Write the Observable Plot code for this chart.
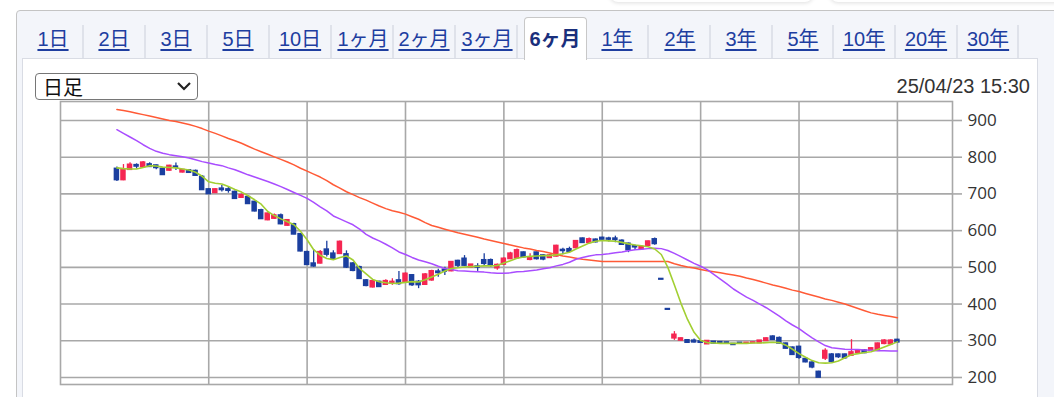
<!DOCTYPE html>
<html><head><meta charset="utf-8">
<script src="https://cdn.jsdelivr.net/npm/d3@7"></script>
<script src="https://cdn.jsdelivr.net/npm/@observablehq/plot@0.6"></script>
<style>
html,body{margin:0;padding:0;background:#fff;width:1054px;height:397px;overflow:hidden;position:relative;font-family:"Liberation Sans",Arial,"Noto Sans CJK JP",sans-serif;}
.shadow{position:absolute;top:-24px;height:26px;border-radius:8px;background:#fff;box-shadow:0 1px 4px rgba(0,0,0,0.13);}
#outer{position:absolute;left:16px;top:10px;width:1100px;height:430px;border:1px solid #c4c4c4;border-radius:4px;background:#f3f5fa;box-sizing:border-box;}
#panel{position:absolute;left:22px;top:58px;width:1016px;height:400px;background:#fff;border:1px solid #d9dce4;box-sizing:border-box;}
.sep{position:absolute;top:25px;height:33px;width:2px;background:#dfe2ea;}
.tab{position:absolute;top:27px;font-size:20px;line-height:24px;color:#1e3ea0;text-decoration:underline;text-decoration-thickness:2px;text-underline-offset:3px;transform:translateX(-50%);white-space:nowrap;}
#active{position:absolute;left:524px;top:17px;width:63px;height:43px;background:#fff;border:1px solid #c8c8c8;border-bottom:none;border-radius:4px 4px 0 0;box-sizing:border-box;}
.tab.on{color:#1a2f7c;font-weight:bold;text-decoration:none;}
#sel{position:absolute;left:35px;top:73px;width:163px;height:27px;border:1px solid #767676;border-radius:4px;box-sizing:border-box;background:#fff;}
#sel span{position:absolute;left:7px;top:0px;font-size:20px;line-height:25px;color:#111;font-family:"Noto Sans CJK JP",sans-serif;}
#sel svg{position:absolute;left:140px;top:7px;}
#date{position:absolute;right:24px;top:74px;font-size:20px;line-height:24px;color:#333;}
#chart{position:absolute;left:0;top:0;}
</style></head>
<body>
<div class="shadow" style="left:610px;width:203px"></div>
<div class="shadow" style="left:830px;width:260px"></div>
<div id="outer"></div>
<div id="panel"></div>
<div id="tabs"></div>
<div id="sel"><span>日足</span><svg width="16" height="10"><polyline points="2,2 8,8 14,2" fill="none" stroke="#222" stroke-width="2.2"/></svg></div>
<div id="date">25/04/23 15:30</div>
<div id="chart"></div>
<script>
// ---- data ----
const tabLabels = ["1日","2日","3日","5日","10日","1ヶ月","2ヶ月","3ヶ月","6ヶ月","1年","2年","3年","5年","10年","20年","30年"];
const activeTab = "6ヶ月";
const yTicks = [200,300,400,500,600,700,800,900];
const xGrid = [14,29,44,59,74,89,104,119];

const open  = [768,738,766,778,773,780,777,768,764,774,759,764,762,746,712,703,714,712,705,690,691,678,655,629,633,641,614,617,590,541,510,511,548,537,537,535,510,500,464,446,460,453,457,464,460,478,460,453,465,488,493,490,517,523,500,502,519,519,498,508,523,525,540,521,540,532,526,530,547,549,553,578,567,575,580,578,578,572,564,557,550,559,576,468,386,307,301,301,300,298,291,297,296,295,291,294,293,294,294,300,311,307,292,281,283,250,240,215,252,262,262,262,260,267,273,273,273,292,291,302];
const high  = [773,780,785,782,788,785,779,770,778,784,766,766,765,750,715,714,723,720,708,700,695,680,658,648,645,645,630,620,592,544,548,546,571,545,572,545,513,503,467,465,462,466,469,489,485,480,464,483,492,495,500,516,519,532,508,510,537,523,509,526,541,550,542,537,542,535,535,560,552,555,573,580,580,577,582,582,585,575,566,561,558,572,580,469,386,325,308,303,305,300,301,298,297,296,292,295,295,296,301,308,314,310,294,283,285,253,244,217,278,265,264,264,303,276,276,281,294,303,303,304];
const low   = [734,736,764,768,771,772,766,751,762,764,757,757,749,710,699,701,705,702,686,688,672,651,630,627,630,616,612,589,542,505,500,509,528,520,535,497,488,467,447,444,445,451,451,451,458,448,442,451,462,473,478,488,498,503,498,489,502,500,492,506,521,523,526,518,520,518,524,528,534,540,550,565,564,566,572,569,567,560,540,546,548,557,560,466,384,301,299,293,294,293,290,292,292,293,288,292,292,293,293,298,302,291,277,260,250,240,224,199,246,240,252,250,258,265,265,271,271,289,288,294];
const close = [738,764,779,775,785,774,771,752,776,772,765,758,750,711,700,712,711,709,687,696,673,653,632,646,641,618,628,590,544,507,503,541,535,523,569,500,491,469,450,462,447,462,460,455,482,452,452,480,489,485,489,514,505,505,507,500,510,507,506,523,537,546,528,527,523,522,532,558,545,543,571,567,576,569,576,576,575,562,547,555,555,570,564,467,385,316,306,295,296,295,299,293,293,294,289,293,294,295,300,306,303,293,279,262,254,242,228,200,272,243,256,253,268,272,267,279,292,300,300,296];

const maLong  = [930,927,924,920,916,912,908,904,900,897,893,889,884,878,871,865,858,851,845,838,830,822,815,808,801,794,787,779,770,762,754,746,736,725,716,706,698,690,683,675,667,660,654,650,645,638,631,622,614,609,604,599,594,590,586,582,577,573,569,565,561,557,553,550,546,543,539,535,531,528,525,522,520,518,516,516,516,516,516,516,516,516,516,516,516,510,505,501,498,494,491,488,485,482,479,476,471,467,462,457,452,448,443,438,434,429,424,419,414,410,405,400,394,388,382,376,372,369,366,363];
const maMid   = [875,865,855,845,834,824,816,811,807,804,801,798,793,788,784,780,777,771,766,759,752,746,740,734,727,720,712,704,696,688,677,665,654,640,632,624,616,604,590,580,572,563,553,542,535,527,520,515,510,503,497,494,491,490,489,488,487,485,484,484,485,488,489,491,493,496,499,504,508,514,522,527,531,534,535,537,540,542,545,548,549,551,552,551,546,538,529,520,511,503,494,481,468,455,441,430,419,410,400,390,379,367,354,343,333,320,308,297,287,281,279,277,276,276,275,274,273,273,272,272];
const maShort = [771,769,768,768,772,777,776,773,772,771,768,765,759,748,733,729,727,720,712,705,695,684,672,652,641,632,624,616,598,575,548,533,524,521,527,531,520,497,482,467,461,458,456,457,459,461,460,466,474,481,490,497,499,501,502,503,504,504,505,512,518,525,528,530,531,532,532,534,537,541,550,558,566,571,573,572,571,568,564,561,559,556,550,535,500,452,402,358,323,301,295,294,293,293,293,293,293,294,294,295,296,295,288,277,265,255,246,240,239,240,245,254,262,265,268,270,276,283,290,297];

// ---- tabs (HTML) ----
const tabCenters = [53,114,176,238,300,363,424,487,555,617,680,741,803,864,926,988];
const sepX = [82,144,206,268,330,392,454,516,647,709,771,832,894,956,1017];
const tabs = document.getElementById("tabs");
sepX.forEach(x => { const s = document.createElement("div"); s.className = "sep"; s.style.left = x + "px"; tabs.appendChild(s); });
const act = document.createElement("div"); act.id = "active"; tabs.appendChild(act);
tabLabels.forEach((t, k) => {
  const e = document.createElement("div");
  e.className = "tab" + (t === activeTab ? " on" : "");
  e.style.left = tabCenters[k] + "px";
  e.textContent = t;
  tabs.appendChild(e);
});

// ---- chart ----
const candles = open.map((o, i) => ({i, open: o, high: high[i], low: low[i], close: close[i],
  lo: Math.min(o, close[i]), hi: Math.max(o, close[i]), up: close[i] >= o}));
const line = (arr) => arr.map((v, i) => ({i, v}));
const UP = "#f52652", DOWN = "#1b3f9f", GRID = "#a8a8a8";

const plot = Plot.plot({
  width: 1054, height: 397,
  marginLeft: 60, marginRight: 102, marginTop: 101, marginBottom: 13,
  x: {domain: [-8.6, 127.4], axis: null},
  y: {domain: [180.9, 951.75]},
  style: {background: "transparent", overflow: "visible"},
  marks: [
    Plot.ruleY(yTicks, {stroke: GRID, strokeWidth: 1.6}),
    Plot.ruleX(xGrid, {stroke: GRID, strokeWidth: 1.6}),
    Plot.frame({stroke: GRID, strokeWidth: 1.6}),
    Plot.axisY(yTicks, {anchor: "right", tickSize: 9, tickPadding: 6, stroke: GRID, strokeWidth: 1.6,
      fill: "#333", fontSize: 17, fontFamily: "Open Sans", label: null, textAnchor: "start"}),
    Plot.ruleX(candles, {x: "i", y1: "low", y2: "high", stroke: d => d.up ? UP : DOWN, strokeWidth: 1.3}),
    Plot.rect(candles, {x1: d => d.i - 0.42, x2: d => d.i + 0.42, y1: "lo", y2: "hi",
      fill: d => d.up ? UP : DOWN, insetTop: -0.9, insetBottom: -0.9}),
    Plot.line(line(maLong), {x: "i", y: "v", stroke: "#ff5a36", strokeWidth: 1.5}),
    Plot.line(line(maMid), {x: "i", y: "v", stroke: "#a94dff", strokeWidth: 1.5}),
    Plot.line(line(maShort), {x: "i", y: "v", stroke: "#a2cf32", strokeWidth: 1.6})
  ]
});
document.getElementById("chart").appendChild(plot);
</script>
</body></html>
